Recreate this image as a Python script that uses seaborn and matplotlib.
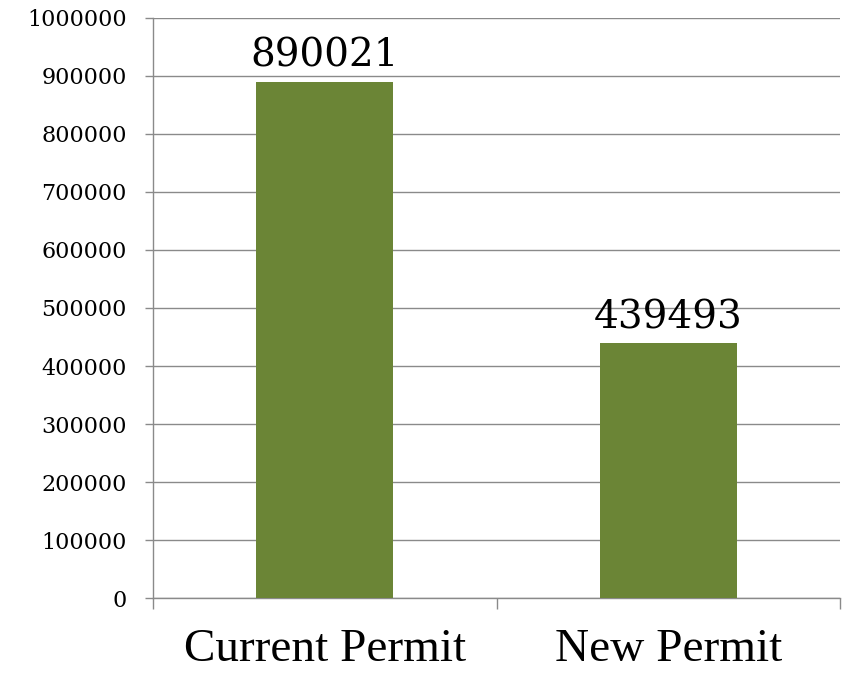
import numpy as np
import pandas as pd
import seaborn as sns
import matplotlib.pyplot as plt
from matplotlib.ticker import MultipleLocator, FixedLocator, FuncFormatter

# data
categories = ['Current Permit', 'New Permit']
values = [890021, 439493]

df = pd.DataFrame({'permit': categories, 'value': values})

sns.set_style('white')
plt.rcParams['font.family'] = ['DejaVu Serif']
plt.rcParams['text.color'] = 'black'
plt.rcParams['xtick.color'] = 'black'
plt.rcParams['ytick.color'] = 'black'

fig = plt.figure(figsize=(8.46, 6.73), dpi=100)
ax = fig.add_axes([0.1809, 0.1114, 0.8120, 0.8619])

sns.barplot(data=df, x='permit', y='value', color='#6B8536', saturation=1,
            width=0.4, linewidth=0, ax=ax, zorder=3)

ax.set_ylim(0, 1000000)
ax.set_xlim(-0.5, 1.5)
ax.yaxis.set_major_locator(MultipleLocator(100000))
ax.yaxis.set_major_formatter(FuncFormatter(lambda v, p: '%d' % v))
ax.yaxis.grid(True, color='#8a8a8a', lw=1, zorder=0)
ax.set_axisbelow(True)

for s in ['top', 'right']:
    ax.spines[s].set_visible(False)
for s in ['left', 'bottom']:
    ax.spines[s].set_color('#8a8a8a')
    ax.spines[s].set_linewidth(1)

ax.tick_params(axis='y', left=True, length=6, width=1, color='#8a8a8a',
               labelcolor='black', pad=13, labelsize=16)
ax.tick_params(axis='x', which='major', bottom=False, length=0, pad=22,
               labelcolor='black')
ax.xaxis.set_minor_locator(FixedLocator([-0.5, 0.5, 1.5]))
ax.tick_params(axis='x', which='minor', bottom=True, length=8, width=1,
               color='#8a8a8a')
for lab in ax.get_xticklabels():
    lab.set_fontfamily('Liberation Serif')
    lab.set_fontsize(34)

ax.set_xlabel('')
ax.set_ylabel('')

for i, v in enumerate(values):
    ax.annotate(str(v), (i, v), xytext=(0, 5), textcoords='offset points',
                ha='center', va='bottom', fontsize=28, color='black')

fig.savefig('out.png', dpi=100)
